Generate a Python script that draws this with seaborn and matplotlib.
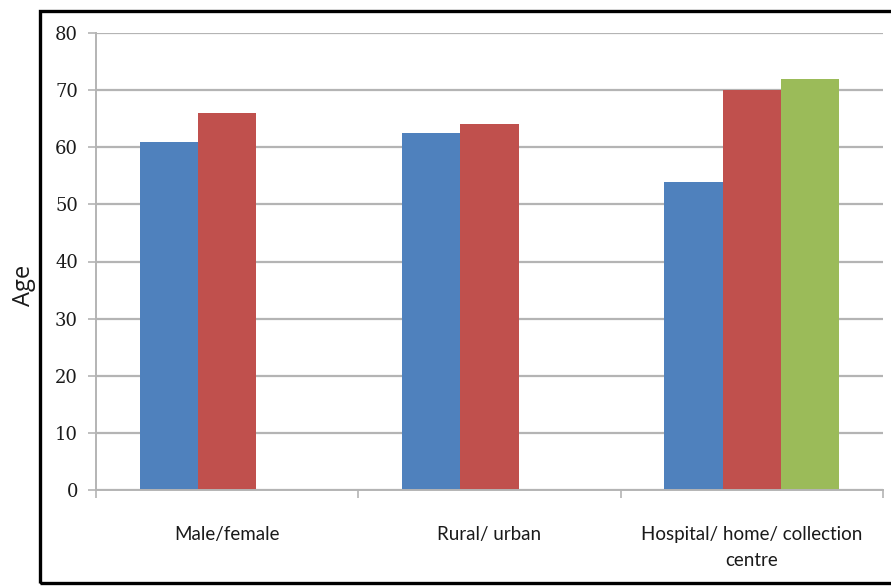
import numpy as np
import pandas as pd
import matplotlib
matplotlib.use("Agg")
import matplotlib.pyplot as plt
from matplotlib.patches import Rectangle
import seaborn as sns

# data
categories = ["Male/female", "Rural/ urban", "Hospital/ home/ collection\ncentre"]
series_names = ["first", "second", "third"]
first_vals = [61.0, 62.5, 54.0]
second_vals = [66.0, 64.0, 70.0]
third_vals = [np.nan, np.nan, 72.0]
colors = ["#4F81BD", "#C0504D", "#9BBB59"]
y_ticks = [0, 10, 20, 30, 40, 50, 60, 70, 80]

df = pd.DataFrame({
    "category": categories * 3,
    "series": np.repeat(series_names, len(categories)),
    "age": first_vals + second_vals + third_vals,
})

sns.set_theme(style="white")
plt.rcParams["font.family"] = ["Lato", "DejaVu Sans"]

fig = plt.figure(figsize=(8.91, 5.86), dpi=100)
ax = fig.add_axes([96 / 891, 96 / 586, 787 / 891, 457 / 586])

sns.barplot(data=df, x="category", y="age", hue="series",
            order=categories, hue_order=series_names,
            palette=colors, width=3 / 4.5, saturation=1,
            errorbar=None, legend=False, linewidth=0, ax=ax)

grid_c = "#b4b4b4"
ax.set_ylim(0, 80)
ax.set_xlim(-0.5, 2.5)
ax.set_yticks(y_ticks)
ax.set_yticklabels([str(t) for t in y_ticks], family="DejaVu Serif",
                   fontsize=13, color="#1a1a1a")
ax.yaxis.grid(True, color=grid_c, linewidth=1.6)
ax.set_axisbelow(True)

# category labels at centres, tick marks at boundaries
ax.set_xticks([0, 1, 2])
ax.set_xticklabels(categories, fontsize=13.5, color="#1a1a1a", linespacing=1.6)
ax.tick_params(axis="x", which="major", length=0, pad=26)
ax.set_xticks([-0.5, 0.5, 1.5, 2.5], minor=True)
ax.tick_params(axis="x", which="minor", length=6, width=1.2, color=grid_c,
               direction="out", bottom=True)
ax.tick_params(axis="y", length=6, width=1.2, color=grid_c, direction="out",
               left=True, pad=7)

for side in ["top", "right"]:
    ax.spines[side].set_visible(False)
for side in ["left", "bottom"]:
    ax.spines[side].set_color(grid_c)
    ax.spines[side].set_linewidth(1.4)

ax.set_xlabel("")
ax.set_ylabel("")
fig.text(24 / 891, 1 - 285 / 586, "Age", rotation=90, ha="center", va="center",
         fontsize=17, color="#1a1a1a", family=["Open Sans", "DejaVu Sans"])

# black frame around the chart area, running off the right edge
fig.patches.append(Rectangle((40 / 891, 3 / 586), 900 / 891, 572 / 586,
                             transform=fig.transFigure, fill=False,
                             edgecolor="black", linewidth=2.4, clip_on=False))

fig.savefig("out.png", dpi=100)
